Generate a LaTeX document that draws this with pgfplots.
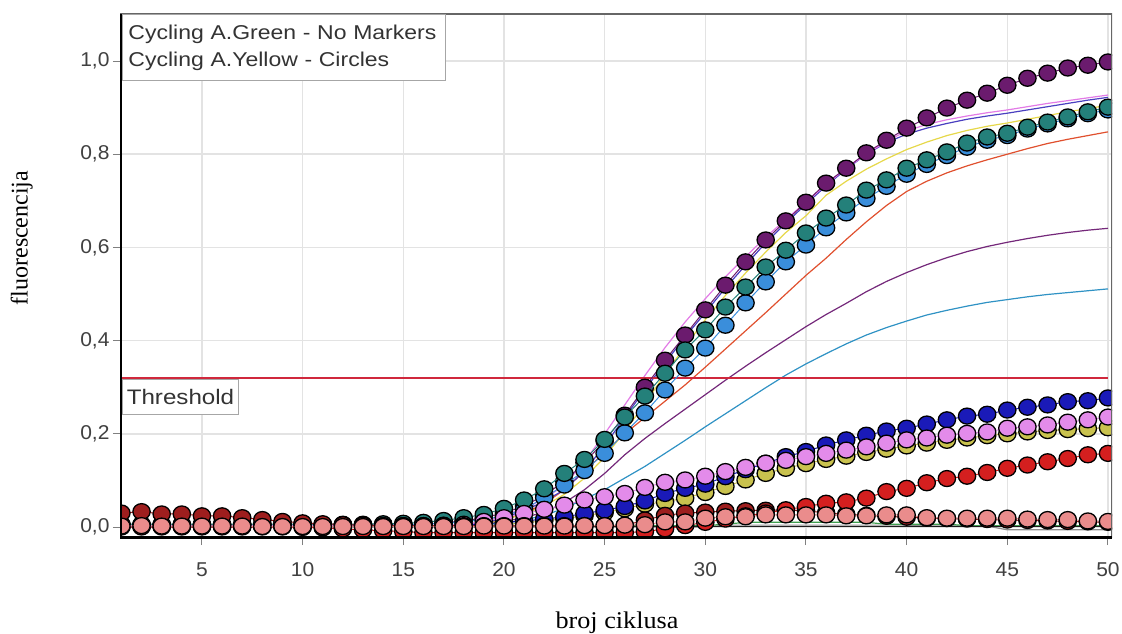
\documentclass[border=0pt]{standalone}
\usepackage{fontspec}
\setmainfont{Liberation Serif}
\newfontfamily\xlabfont{Liberation Serif}[FakeStretch=1.09]
\newfontfamily\ylabfont{Liberation Serif}
\newfontfamily\tickfont{Liberation Sans}[FakeStretch=1.05]
\newfontfamily\legfont{Liberation Sans}[FakeStretch=1.15]
\usepackage{pgfplots}
\usepackage{pgfplotstable}
\pgfplotsset{compat=1.18}

\definecolor{cpur}{HTML}{6B1B6E}
\definecolor{cteal}{HTML}{24807A}
\definecolor{cblu}{HTML}{3A8EDB}
\definecolor{cdbl}{HTML}{1A1AB8}
\definecolor{cvio}{HTML}{E38BEA}
\definecolor{coli}{HTML}{C9C24E}
\definecolor{cred}{HTML}{D41F1F}
\definecolor{cdred}{HTML}{9E1E1E}
\definecolor{csal}{HTML}{EA8C8C}
\definecolor{lpink}{HTML}{E27BE6}
\definecolor{lindigo}{HTML}{4A3FC0}
\definecolor{lyellow}{HTML}{E6D84A}
\definecolor{lorange}{HTML}{E0502E}
\definecolor{lpur}{HTML}{74287A}
\definecolor{lcyan}{HTML}{2F92C4}
\definecolor{lgrey}{HTML}{8C8C8C}
\definecolor{lgreen}{HTML}{3F9F4F}
\definecolor{lblack}{HTML}{1E1E1E}
\definecolor{thr}{HTML}{D0283C}
\definecolor{gridc}{HTML}{E3E3E3}
\definecolor{tickc}{HTML}{404040}

% Cycling A.Yellow - circles
\pgfplotstableread{
c pur teal blu dbl vio oli red dred sal
1 0.004 0.006 0.004 0.002 0.003 0.002 0.000 0.030 0.002
2 0.004 0.006 0.004 0.002 0.003 0.002 0.000 0.033 0.003
3 0.004 0.006 0.004 0.002 0.003 0.002 0.000 0.028 0.002
4 0.004 0.006 0.004 0.002 0.003 0.002 0.000 0.028 0.002
5 0.004 0.006 0.004 0.002 0.003 0.002 0.000 0.024 0.002
6 0.004 0.006 0.004 0.002 0.003 0.002 0.000 0.024 0.002
7 0.004 0.006 0.004 0.002 0.003 0.002 0.000 0.020 0.002
8 0.004 0.006 0.004 0.002 0.003 0.002 0.000 0.016 0.001
9 0.004 0.006 0.004 0.002 0.003 0.002 0.000 0.012 0.001
10 0.004 0.006 0.004 0.002 0.003 0.002 -0.001 0.009 0.001
11 0.004 0.006 0.004 0.002 0.003 0.002 -0.002 0.007 0.001
12 0.004 0.006 0.004 0.002 0.003 0.002 -0.004 0.005 0.001
13 0.004 0.006 0.004 0.002 0.003 0.002 -0.006 0.004 0.001
14 0.004 0.007 0.004 0.002 0.003 0.002 -0.008 0.003 0.001
15 0.004 0.008 0.005 0.002 0.003 0.002 -0.010 0.003 0.001
16 0.006 0.010 0.006 0.002 0.003 0.002 -0.012 0.003 0.001
17 0.009 0.014 0.008 0.002 0.004 0.002 -0.012 0.003 0.001
18 0.013 0.020 0.011 0.004 0.006 0.002 -0.012 0.003 0.001
19 0.020 0.027 0.016 0.007 0.012 0.002 -0.012 0.003 0.002
20 0.030 0.040 0.024 0.010 0.020 0.005 -0.012 0.003 0.002
21 0.045 0.058 0.038 0.013 0.029 0.009 -0.012 0.003 0.002
22 0.068 0.082 0.063 0.017 0.038 0.013 -0.012 0.003 0.002
23 0.098 0.115 0.090 0.022 0.047 0.018 -0.012 0.003 0.002
24 0.138 0.145 0.121 0.029 0.058 0.024 -0.012 0.003 0.003
25 0.185 0.188 0.158 0.036 0.065 0.031 -0.012 0.003 0.003
26 0.240 0.236 0.202 0.044 0.072 0.039 -0.012 0.003 0.004
27 0.300 0.281 0.245 0.056 0.085 0.049 -0.010 0.015 0.005
28 0.358 0.330 0.294 0.072 0.096 0.054 -0.004 0.025 0.011
29 0.412 0.380 0.341 0.083 0.101 0.062 0.003 0.030 0.011
30 0.466 0.423 0.384 0.092 0.109 0.074 0.010 0.032 0.019
31 0.519 0.472 0.433 0.108 0.119 0.087 0.017 0.034 0.022
32 0.569 0.515 0.481 0.123 0.128 0.101 0.024 0.035 0.022
33 0.616 0.558 0.526 0.137 0.137 0.115 0.030 0.036 0.026
34 0.657 0.594 0.569 0.151 0.143 0.126 0.037 0.036 0.026
35 0.697 0.631 0.605 0.162 0.151 0.136 0.044 0.035 0.026
36 0.738 0.663 0.642 0.176 0.158 0.145 0.051 0.030 0.026
37 0.770 0.691 0.674 0.187 0.165 0.152 0.054 0.027 0.024
38 0.803 0.723 0.705 0.197 0.172 0.160 0.062 0.025 0.024
39 0.830 0.745 0.731 0.206 0.180 0.167 0.076 0.023 0.026
40 0.856 0.770 0.757 0.212 0.187 0.174 0.083 0.021 0.026
41 0.878 0.788 0.778 0.221 0.191 0.180 0.095 0.019 0.020
42 0.899 0.805 0.797 0.230 0.197 0.186 0.104 0.018 0.019
43 0.916 0.824 0.815 0.238 0.201 0.191 0.109 0.017 0.019
44 0.931 0.837 0.830 0.242 0.204 0.196 0.117 0.016 0.019
45 0.948 0.845 0.840 0.251 0.212 0.200 0.126 0.015 0.019
46 0.963 0.858 0.854 0.257 0.215 0.204 0.133 0.014 0.017
47 0.974 0.869 0.865 0.262 0.219 0.207 0.140 0.013 0.016
48 0.985 0.880 0.876 0.269 0.225 0.209 0.147 0.012 0.016
49 0.991 0.891 0.887 0.271 0.230 0.211 0.155 0.011 0.013
50 0.998 0.901 0.895 0.277 0.236 0.213 0.158 0.010 0.012
}\markertable

% Cycling A.Green - no markers
\pgfplotstableread{
c pink indigo yellow orange lpur cyan grey green black
1 0.002 0.002 0.002 0.002 0.002 0.002 0.000 0.003 0.001
2 0.002 0.002 0.002 0.002 0.002 0.002 0.000 0.003 0.001
3 0.002 0.002 0.002 0.002 0.002 0.002 0.000 0.003 0.001
4 0.002 0.002 0.002 0.002 0.002 0.002 0.000 0.003 0.001
5 0.002 0.002 0.002 0.002 0.002 0.002 0.000 0.003 0.001
6 0.002 0.002 0.002 0.002 0.002 0.002 0.000 0.003 0.001
7 0.002 0.002 0.002 0.002 0.002 0.002 0.000 0.003 0.001
8 0.002 0.002 0.002 0.002 0.002 0.002 0.000 0.003 0.001
9 0.002 0.002 0.002 0.002 0.002 0.002 0.000 0.003 0.001
10 0.002 0.002 0.002 0.002 0.002 0.002 0.000 0.003 0.001
11 0.002 0.002 0.002 0.002 0.002 0.002 0.000 0.003 0.001
12 0.002 0.002 0.002 0.002 0.002 0.002 0.000 0.003 0.001
13 0.002 0.002 0.002 0.002 0.002 0.002 0.000 0.003 0.001
14 0.002 0.002 0.002 0.002 0.002 0.002 0.000 0.003 0.001
15 0.002 0.002 0.002 0.002 0.002 0.002 0.000 0.003 0.001
16 0.002 0.002 0.002 0.002 0.002 0.002 0.000 0.003 0.001
17 0.002 0.002 0.002 0.002 0.002 0.002 0.000 0.003 0.001
18 0.004 0.003 0.003 0.006 0.004 0.003 0.000 0.003 0.001
19 0.010 0.008 0.006 0.010 0.007 0.005 0.000 0.003 0.001
20 0.025 0.020 0.015 0.016 0.012 0.008 0.000 0.003 0.001
21 0.040 0.035 0.028 0.030 0.020 0.015 0.000 0.003 0.001
22 0.060 0.055 0.045 0.050 0.032 0.025 0.000 0.003 0.001
23 0.090 0.080 0.070 0.080 0.052 0.040 0.000 0.003 0.001
24 0.140 0.120 0.105 0.120 0.080 0.060 0.000 0.003 0.001
25 0.200 0.175 0.150 0.160 0.115 0.080 0.000 0.003 0.001
26 0.262 0.235 0.205 0.200 0.155 0.105 0.000 0.003 0.001
27 0.325 0.295 0.265 0.235 0.190 0.130 0.000 0.003 0.001
28 0.385 0.352 0.328 0.270 0.222 0.158 0.000 0.003 0.001
29 0.440 0.408 0.388 0.305 0.253 0.186 0.000 0.003 0.001
30 0.490 0.460 0.445 0.343 0.284 0.215 0.000 0.003 0.001
31 0.537 0.513 0.497 0.382 0.315 0.243 0.004 0.006 0.001
32 0.580 0.562 0.545 0.421 0.345 0.271 0.004 0.010 0.001
33 0.622 0.610 0.590 0.460 0.374 0.299 0.004 0.010 0.001
34 0.660 0.652 0.632 0.500 0.402 0.326 0.004 0.010 0.001
35 0.697 0.693 0.668 0.540 0.430 0.350 0.004 0.010 0.001
36 0.735 0.732 0.712 0.577 0.456 0.372 0.004 0.010 0.001
37 0.770 0.768 0.742 0.617 0.480 0.393 0.004 0.010 0.001
38 0.800 0.800 0.768 0.655 0.505 0.412 0.004 0.010 0.001
39 0.828 0.825 0.790 0.690 0.527 0.428 0.004 0.006 0.001
40 0.850 0.843 0.810 0.720 0.546 0.442 0.004 0.006 0.001
41 0.864 0.856 0.826 0.742 0.563 0.455 0.002 0.006 0.001
42 0.874 0.866 0.840 0.760 0.578 0.465 0.002 0.006 0.001
43 0.882 0.875 0.851 0.775 0.591 0.474 0.002 0.003 0.001
44 0.889 0.882 0.860 0.788 0.602 0.482 0.002 0.003 0.001
45 0.895 0.888 0.867 0.800 0.611 0.488 -0.006 0.003 0.001
46 0.902 0.895 0.875 0.812 0.619 0.494 -0.006 0.003 0.001
47 0.909 0.902 0.883 0.823 0.626 0.499 -0.006 0.003 0.001
48 0.915 0.909 0.891 0.832 0.632 0.503 -0.006 0.003 0.001
49 0.921 0.916 0.898 0.840 0.637 0.507 -0.006 0.003 0.001
50 0.927 0.922 0.905 0.848 0.641 0.511 -0.006 0.003 0.001
}\linetable

\pgfplotsset{
  mser/.style={line width=1pt, color=#1, mark=*, mark size=8pt,
    mark options={draw=black, line width=1.3pt, fill=#1, xscale=1.08}},
  lser/.style={line width=1.2pt, color=#1, no markers},
}

\begin{document}
\begin{tikzpicture}
\useasboundingbox (0,0) rectangle (1122pt,633pt);
\begin{axis}[
  at={(120pt,95pt)}, anchor=south west,
  scale only axis, width=992pt, height=524pt,
  xmin=0.93, xmax=50.2, ymin=-0.0236, ymax=1.1009,
  xtick={5,10,...,50}, ytick={0,0.2,0.4,0.6,0.8,1},
  tick pos=left, tick align=outside, major tick length=7pt,
  tick style={color=gray, line width=1pt},
  grid=major, major grid style={color=gridc, line width=1.5pt},
  axis line style={draw=none},
  clip marker paths=true,
  ticklabel style={font=\tickfont\fontsize{20}{22}\selectfont, text=tickc},
  xticklabel style={yshift=-14pt},
  /pgf/number format/assume math mode=true,
  yticklabel style={/pgf/number format/.cd, fixed, fixed zerofill, precision=1, use comma},
  xlabel={broj ciklusa},
  xlabel style={font=\xlabfont\fontsize{24}{26}\selectfont, at={(axis description cs:0.501,-0.1718)}, anchor=base},
  ylabel={fluorescencija},
  ylabel style={font=\ylabfont\fontsize{24}{26}\selectfont, at={(axis description cs:-0.093,0.5725)}, anchor=base},
]
% lines without markers
\addplot[lser=lgrey] table[x=c, y=grey] {\linetable};
\addplot[lser=lgreen] table[x=c, y=green] {\linetable};
\addplot[lser=lblack] table[x=c, y=black] {\linetable};
\addplot[lser=lcyan] table[x=c, y=cyan] {\linetable};
\addplot[lser=lpur] table[x=c, y=lpur] {\linetable};
\addplot[lser=lorange] table[x=c, y=orange] {\linetable};
\addplot[lser=lyellow] table[x=c, y=yellow] {\linetable};
\addplot[lser=lindigo] table[x=c, y=indigo] {\linetable};
\addplot[lser=lpink] table[x=c, y=pink] {\linetable};
% threshold
\addplot[color=thr, line width=1.6pt, no markers] coordinates {(0.93,0.32) (50,0.32)};
% series with circles
\addplot[mser=cpur] table[x=c, y=pur] {\markertable};
\addplot[mser=cblu] table[x=c, y=blu] {\markertable};
\addplot[mser=cteal] table[x=c, y=teal] {\markertable};
\addplot[mser=coli] table[x=c, y=oli] {\markertable};
\addplot[mser=cdbl] table[x=c, y=dbl] {\markertable};
\addplot[mser=cvio] table[x=c, y=vio] {\markertable};
\addplot[mser=cdred] table[x=c, y=dred] {\markertable};
\addplot[mser=cred] table[x=c, y=red] {\markertable};
\addplot[mser=csal] table[x=c, y=sal] {\markertable};
% frame
\draw[color=gray!80!black, line width=2pt] (rel axis cs:0,1) -- (rel axis cs:1,1) -- (rel axis cs:1,0);
\draw[black, line width=4.5pt] (rel axis cs:0,1) -- (rel axis cs:0,0) -- (rel axis cs:1,0);
% threshold label
\node[draw=gray!70, fill=white, line width=1pt, anchor=north west, minimum width=116pt, minimum height=35pt,
  inner sep=0pt, font=\legfont\fontsize{21}{23}\selectfont, text=black!80]
  at ([xshift=2pt, yshift=-1.5pt]axis cs:0.93,0.32) {Threshold};
% legend text box
\node[draw=gray!70, fill=white, line width=1pt, anchor=north west, minimum width=323pt, minimum height=66pt,
  inner xsep=6pt, inner ysep=0pt, align=left, text width=311pt, font=\legfont\fontsize{20}{27}\selectfont, text=black!80]
  at ([xshift=2pt]rel axis cs:0,1) {\hyphenpenalty=10000 Cycling A.Green - No Markers\\Cycling A.Yellow - Circles};
\end{axis}
\end{tikzpicture}
\end{document}
